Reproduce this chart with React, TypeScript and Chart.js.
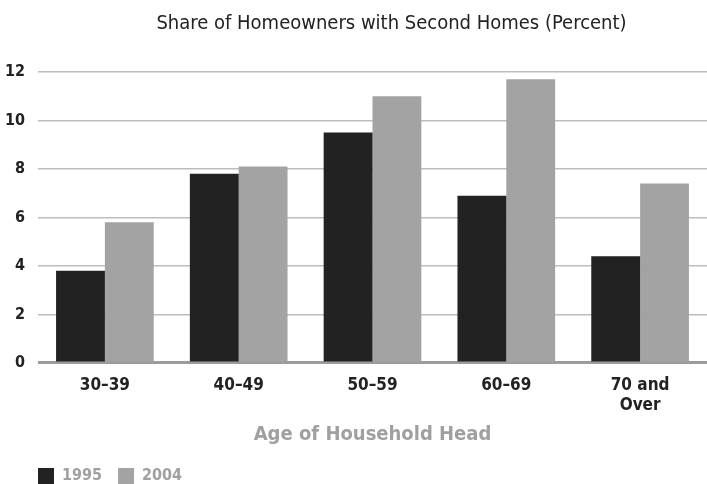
import React, { useEffect, useRef } from "react";
import { Chart, registerables } from "chart.js";

Chart.register(...registerables);

const categories: (string | string[])[] = ["30–39", "40–49", "50–59", "60–69", ["70 and", "Over"]];
const series1995 = [3.8, 7.8, 9.5, 6.9, 4.4];
const series2004 = [5.8, 8.1, 11.0, 11.7, 7.4];
const yTicks = [0, 2, 4, 6, 8, 10, 12];

const FONT = "'Liberation Sans Narrow', 'DejaVu Sans Condensed', 'Roboto', sans-serif";

const placeBoxes = {
  id: "placeBoxes",
  afterLayout(chart: any) {
    if (chart.titleBlock) {
      chart.titleBlock.left = 76;
    }
    if (chart.legend) {
      chart.legend.left = 22;
      chart.legend.top = 452;
    }
  },
};

export default function App() {
  const ref = useRef<HTMLCanvasElement | null>(null);
  useEffect(() => {
    document.body.style.margin = "0";
    const ctx = ref.current!;
    const chart = new Chart(ctx, {
      type: "bar",
      data: {
        labels: categories,
        datasets: [
          { label: "1995", data: series1995, backgroundColor: "#222222", borderWidth: 0 },
          { label: "2004", data: series2004, backgroundColor: "#a3a3a3", borderWidth: 0 },
        ],
      },
      plugins: [placeBoxes],
      options: {
        animation: false,
        responsive: false,
        maintainAspectRatio: false,
        layout: { padding: { left: 0, right: 0, top: 0, bottom: 0 } },
        datasets: { bar: { categoryPercentage: 0.73, barPercentage: 1 } },
        plugins: {
          title: {
            display: true,
            text: "Share of Homeowners with Second Homes (Percent)",
            color: "#222",
            font: { family: FONT, size: 20, weight: "normal", lineHeight: 1.2 },
            padding: { top: 12, bottom: 36 },
          },
          legend: {
            position: "bottom",
            align: "start",
            labels: {
              boxWidth: 16,
              boxHeight: 16,
              color: "#a0a0a0",
              font: { family: FONT, size: 16, weight: "bold" },
              padding: 16,
            },
          },
          tooltip: { enabled: false },
        },
        scales: {
          x: {
            grid: { display: false, drawTicks: false },
            border: { display: false },
            ticks: {
              color: "#222",
              font: { family: FONT, size: 17, weight: "bold", lineHeight: 1.15 },
              padding: 13,
              maxRotation: 0,
            },
            title: {
              display: true,
              text: "Age of Household Head",
              color: "#a0a0a0",
              font: { family: FONT, size: 20, weight: "bold", lineHeight: 1.2 },
              padding: { top: -5, bottom: -5 },
            },
          },
          y: {
            min: 0,
            max: 12,
            afterBuildTicks: (axis: any) => {
              axis.ticks = yTicks.map((v) => ({ value: v }));
            },
            afterFit: (axis: any) => {
              axis.width = 38;
            },
            grid: {
              color: (c: any) => (c.tick && c.tick.value === 0 ? "#9c9c9c" : "#bdbdbd"),
              lineWidth: (c: any) => (c.tick && c.tick.value === 0 ? 3 : 1.5),
              drawTicks: false,
            },
            border: { display: false },
            ticks: { color: "#222", font: { family: FONT, size: 16, weight: "bold" }, padding: 13 },
          },
        },
      },
    });
    return () => chart.destroy();
  }, []);
  return (
    <div style={{ width: 707, height: 484 }}>
      <canvas ref={ref} width={707} height={484} />
    </div>
  );
}
